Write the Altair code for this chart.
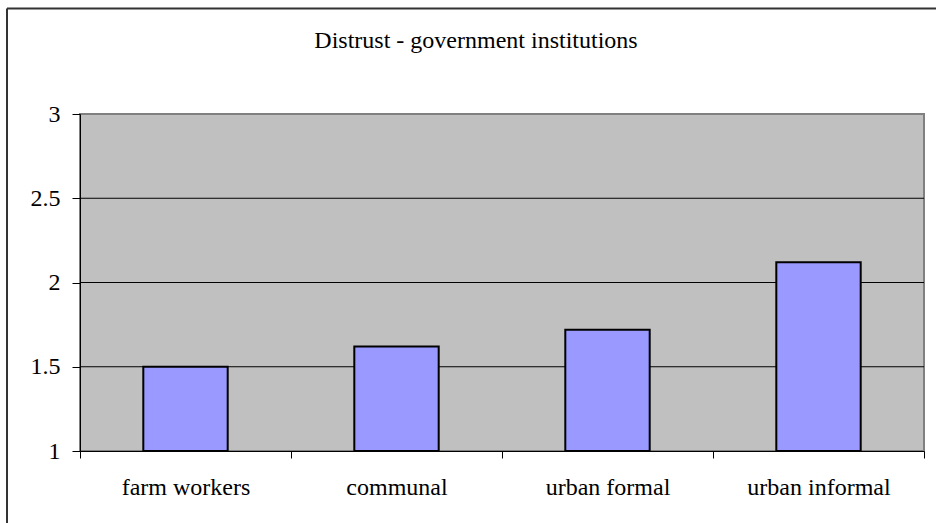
import altair as alt
import pandas as pd

# Mean distrust score per worker group
groups = ["farm workers", "communal", "urban formal", "urban informal"]
distrust = [1.50, 1.62, 1.72, 2.12]

# Horizontal reference lines and y-axis ticks
grid_levels = [1.5, 2.0, 2.5]
y_ticks = [1, 1.5, 2, 2.5, 3]

bars_df = pd.DataFrame({"group": groups, "score": distrust})
grid_df = pd.DataFrame({"level": grid_levels})
frame_df = pd.DataFrame({"k": [0]})

FONT = "Times New Roman, Liberation Serif, serif"
y_scale = alt.Scale(domain=[1, 3], nice=False, zero=False)
y_axis = alt.Axis(
    values=y_ticks,
    format="~g",
    grid=False,
    tickSize=8,
    tickColor="black",
    domainColor="black",
    labelPadding=12,
    labelFont=FONT,
    labelFontSize=24,
    labelColor="black",
)

grid = alt.Chart(grid_df).mark_rule(color="black", strokeWidth=1).encode(
    y=alt.Y("level:Q", scale=y_scale, axis=y_axis, title=None)
)

bars = alt.Chart(bars_df).mark_bar(
    width=alt.RelativeBandSize(0.4),
    color="#9999FF",
    stroke="black",
    strokeWidth=2,
).encode(
    x=alt.X(
        "group:N",
        sort=groups,
        title=None,
        scale=alt.Scale(paddingInner=0, paddingOuter=0),
        axis=alt.Axis(
            labelAngle=0,
            tickBand="extent",
            tickSize=7,
            tickColor="black",
            domainColor="black",
            labelPadding=17,
            labelFont=FONT,
            labelFontSize=24,
            labelColor="black",
        ),
    ),
    y=alt.Y("score:Q", scale=y_scale, title=None, axis=y_axis),
    y2=alt.datum(1),
)

# Outer chart frame (left and top edges)
frame_left = alt.Chart(frame_df).mark_rule(color="#333333", strokeWidth=2).encode(
    x=alt.value(-73), y=alt.value(-105.5), y2=alt.value(420)
)
frame_top = alt.Chart(frame_df).mark_rule(color="#333333", strokeWidth=2).encode(
    x=alt.value(-73), x2=alt.value(900), y=alt.value(-105.5)
)

chart = (
    alt.layer(grid, bars, frame_left, frame_top)
    .properties(
        width=844,
        height=337,
        title=alt.TitleParams(
            "Distrust - government institutions",
            font=FONT,
            fontSize=24,
            fontWeight="normal",
            color="black",
            anchor="middle",
            baseline="alphabetic",
            dx=-26,
            offset=-64.5,
        ),
        autosize=alt.AutoSizeParams(type="none"),
        padding={"left": 80, "top": 114, "right": 12, "bottom": 72},
        background="white",
    )
    .configure_view(fill="#C0C0C0", stroke="#808080", strokeWidth=2)
)

chart.save("out.html", embed_options={"renderer": "svg", "actions": False})
